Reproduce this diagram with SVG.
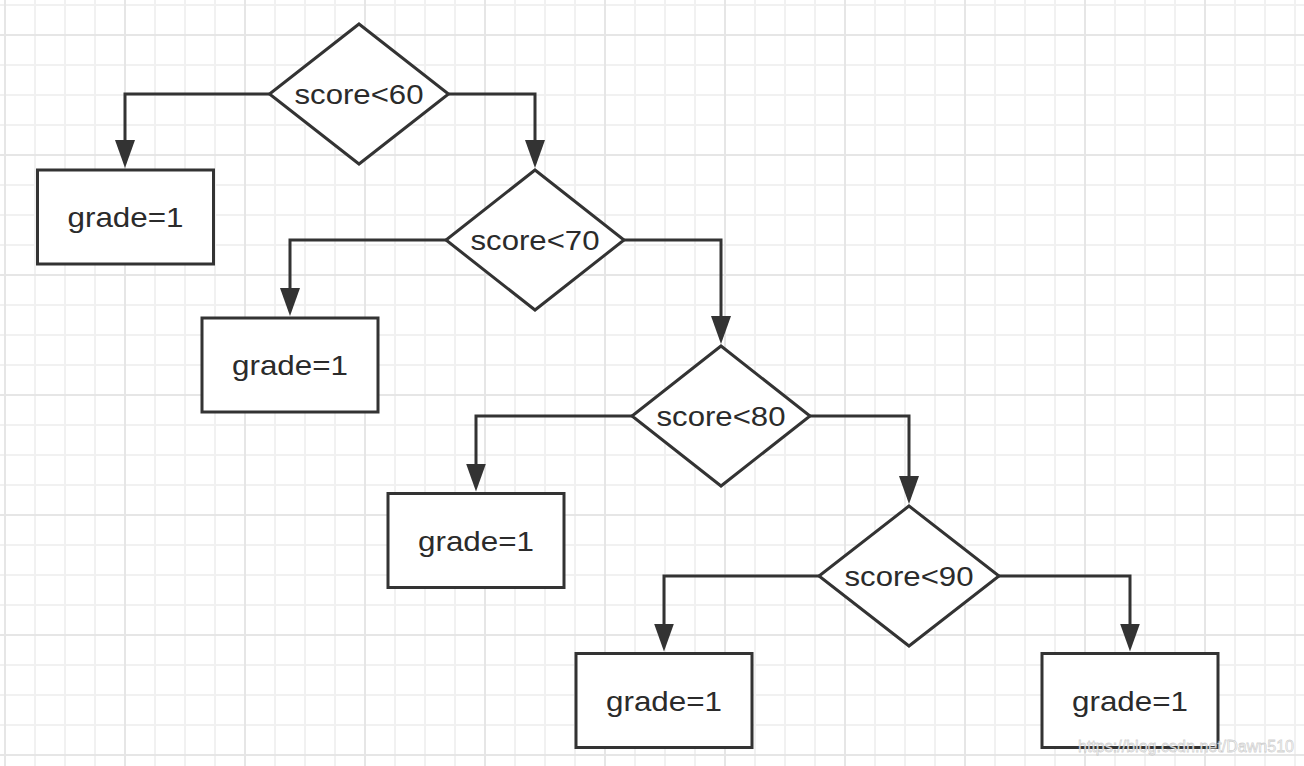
<svg xmlns="http://www.w3.org/2000/svg" width="1304" height="766" viewBox="0 0 1304 766">
<style>
.grid-minor{stroke:#f1f1f1;stroke-width:2;fill:none}
.grid-major{stroke:#e6e6e6;stroke-width:2;fill:none}
.shape{fill:#fff;stroke:#333;stroke-width:3;stroke-linejoin:miter}
.edge{fill:none;stroke:#333;stroke-width:3;marker-end:url(#arrow)}
.lbl{font-family:"Liberation Sans",Arial,sans-serif;font-size:28px;fill:#2b2b2b;text-anchor:middle}
.wm{font-family:"Liberation Sans",Arial,sans-serif;font-size:16px;fill:#fff;fill-opacity:0.85;stroke:#9a9a9a;stroke-opacity:0.45;stroke-width:0.8}
</style>
<defs>
<marker id="arrow" viewBox="0 0 28 20" refX="2" refY="10" markerWidth="28" markerHeight="20" markerUnits="userSpaceOnUse" orient="auto">
<path d="M0 0 L28 10 L0 20 Z" fill="#333"/>
</marker>
</defs>
<rect width="1304" height="766" fill="#fff"/>
<g id="grid">
<path class="grid-minor" d="M35 0V766M65 0V766M95 0V766M155 0V766M185 0V766M215 0V766M275 0V766M305 0V766M335 0V766M395 0V766M425 0V766M455 0V766M515 0V766M545 0V766M575 0V766M635 0V766M665 0V766M695 0V766M755 0V766M785 0V766M815 0V766M875 0V766M905 0V766M935 0V766M995 0V766M1025 0V766M1055 0V766M1115 0V766M1145 0V766M1175 0V766M1235 0V766M1265 0V766M1295 0V766M0 5H1304M0 65H1304M0 95H1304M0 125H1304M0 185H1304M0 215H1304M0 245H1304M0 305H1304M0 335H1304M0 365H1304M0 425H1304M0 455H1304M0 485H1304M0 545H1304M0 575H1304M0 605H1304M0 665H1304M0 695H1304M0 725H1304"/>
<path class="grid-major" d="M5 0V766M125 0V766M245 0V766M365 0V766M485 0V766M605 0V766M725 0V766M845 0V766M965 0V766M1085 0V766M1205 0V766M0 35H1304M0 155H1304M0 275H1304M0 395H1304M0 515H1304M0 635H1304M0 755H1304"/>
</g>
<g id="connectors">
<path class="edge" d="M269.5 94H125V142"/>
<path class="edge" d="M448.5 94H535V142"/>
<path class="edge" d="M446 240H290V290"/>
<path class="edge" d="M624 240H721V318"/>
<path class="edge" d="M632 416H476V465.5"/>
<path class="edge" d="M810 416H909V478"/>
<path class="edge" d="M819 576H664V625.5"/>
<path class="edge" d="M999 576H1130V625.5"/>
</g>
<g id="d1"><polygon class="shape" points="359,24 448.5,94 359,164 269.5,94"/><text class="lbl" x="359" y="103.5" textLength="129" lengthAdjust="spacingAndGlyphs">score&lt;60</text></g>
<g id="b1"><rect class="shape" x="37.5" y="170" width="176" height="94"/><text class="lbl" x="125.5" y="227" textLength="116" lengthAdjust="spacingAndGlyphs">grade=1</text></g>
<g id="d2"><polygon class="shape" points="535,170 624,240 535,310 446,240"/><text class="lbl" x="535" y="249.5" textLength="129" lengthAdjust="spacingAndGlyphs">score&lt;70</text></g>
<g id="b2"><rect class="shape" x="202" y="318" width="176" height="94"/><text class="lbl" x="290" y="375" textLength="116" lengthAdjust="spacingAndGlyphs">grade=1</text></g>
<g id="d3"><polygon class="shape" points="721,346 810,416 721,486 632,416"/><text class="lbl" x="721" y="425.5" textLength="129" lengthAdjust="spacingAndGlyphs">score&lt;80</text></g>
<g id="b3"><rect class="shape" x="388" y="493.5" width="176" height="94"/><text class="lbl" x="476" y="551" textLength="116" lengthAdjust="spacingAndGlyphs">grade=1</text></g>
<g id="d4"><polygon class="shape" points="909,506 999,576 909,646 819,576"/><text class="lbl" x="909" y="585.5" textLength="129" lengthAdjust="spacingAndGlyphs">score&lt;90</text></g>
<g id="b4"><rect class="shape" x="576" y="653.5" width="176" height="94"/><text class="lbl" x="664" y="711" textLength="116" lengthAdjust="spacingAndGlyphs">grade=1</text></g>
<g id="b5"><rect class="shape" x="1042" y="653.5" width="176" height="94"/><text class="lbl" x="1130" y="711" textLength="116" lengthAdjust="spacingAndGlyphs">grade=1</text></g>
<text class="wm" x="1078" y="752" textLength="216" lengthAdjust="spacingAndGlyphs">https://blog.csdn.net/Dawn510</text>
</svg>
